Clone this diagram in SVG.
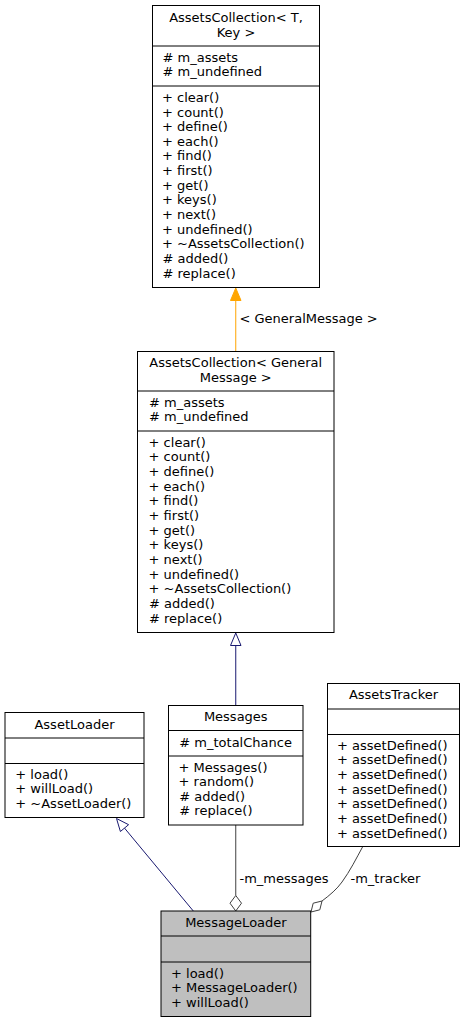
<svg xmlns="http://www.w3.org/2000/svg" width="465" height="1023" viewBox="0 0 465 1023">
<style>
text{font-family:"DejaVu Sans","Liberation Sans",sans-serif;font-size:13px;fill:#000}
.c{text-anchor:middle}
.box{fill:#fff;stroke:#000;stroke-width:1}
.sel{fill:#bfbfbf;stroke:#000;stroke-width:1}
.sep{stroke:#000;stroke-width:1}
.inh{stroke:#191970;fill:none;stroke-width:1}
.inhh{stroke:#191970;fill:#fff;stroke-width:1}
.tpl{stroke:#ffa500;fill:none;stroke-width:1}
.tplh{stroke:#ffa500;fill:#ffa500;stroke-width:1}
.agg{stroke:#404040;fill:none;stroke-width:1}
.aggh{stroke:#404040;fill:#fff;stroke-width:1}
</style>
<rect width="465" height="1023" fill="#fff"/>
<g id="connectors">
<line class="tpl" x1="235.75" y1="300.5" x2="235.75" y2="351.5"/>
<polygon class="tplh" points="235.75,288 241,300.5 230.5,300.5"/>
<text x="239.5" y="323">&lt; GeneralMessage &gt;</text>
<line class="inh" x1="235.75" y1="645.5" x2="235.75" y2="705.5"/>
<polygon class="inhh" points="235.75,633 241,645.5 230.5,645.5"/>
<line class="inh" x1="124.5" y1="828.1" x2="193.3" y2="911"/>
<polygon class="inhh" points="116.5,818.5 128.6,824.7 120.4,831.5"/>
<line class="agg" x1="235.75" y1="825" x2="235.75" y2="895.5"/>
<polygon class="aggh" points="235.75,895.5 241.5,903.2 235.75,911 230,903.2"/>
<text x="239.5" y="883">-m_messages</text>
<path class="agg" d="M362.7,846.7 C356,859 350,871 342,882 C337,889 330,895 322,901"/>
<polygon class="aggh" points="322,901 319.8,909.8 311,912 313.2,903.2"/>
<text x="350.5" y="883">-m_tracker</text>
</g>
<g id="node_AssetsCollection_T_Key">
<rect class="box" x="152.5" y="5.5" width="167" height="282"/>
<text class="c" x="236" y="21.5">AssetsCollection&lt; T,</text>
<text class="c" x="236" y="36.5">Key &gt;</text>
<line class="sep" x1="152.5" y1="46" x2="319.5" y2="46"/>
<text x="162.5" y="61.9"># m_assets</text>
<text x="162.5" y="75.9"># m_undefined</text>
<line class="sep" x1="152.5" y1="86" x2="319.5" y2="86"/>
<text x="162" y="101.9">+ clear()</text>
<text x="162" y="116.5">+ count()</text>
<text x="162" y="131.2">+ define()</text>
<text x="162" y="145.8">+ each()</text>
<text x="162" y="160.4">+ find()</text>
<text x="162" y="175.1">+ first()</text>
<text x="162" y="189.7">+ get()</text>
<text x="162" y="204.3">+ keys()</text>
<text x="162" y="218.9">+ next()</text>
<text x="162" y="233.6">+ undefined()</text>
<text x="162" y="248.2">+ ~AssetsCollection()</text>
<text x="162.5" y="262.8"># added()</text>
<text x="162.5" y="277.5"># replace()</text>
</g>
<g id="node_AssetsCollection_GeneralMessage">
<rect class="box" x="137.5" y="351.5" width="196.5" height="281"/>
<text class="c" x="235.75" y="366.9">AssetsCollection&lt; General</text>
<text class="c" x="235.75" y="381.5">Message &gt;</text>
<line class="sep" x1="137.5" y1="391" x2="334" y2="391"/>
<text x="149" y="406.5"># m_assets</text>
<text x="149" y="421.2"># m_undefined</text>
<line class="sep" x1="137.5" y1="431" x2="334" y2="431"/>
<text x="148.6" y="446.5">+ clear()</text>
<text x="148.6" y="461.2">+ count()</text>
<text x="148.6" y="475.8">+ define()</text>
<text x="148.6" y="490.5">+ each()</text>
<text x="148.6" y="505.2">+ find()</text>
<text x="148.6" y="519.8">+ first()</text>
<text x="148.6" y="534.5">+ get()</text>
<text x="148.6" y="549.2">+ keys()</text>
<text x="148.6" y="563.8">+ next()</text>
<text x="148.6" y="578.5">+ undefined()</text>
<text x="148.6" y="593.2">+ ~AssetsCollection()</text>
<text x="149" y="607.8"># added()</text>
<text x="149" y="622.5"># replace()</text>
</g>
<g id="node_AssetLoader">
<rect class="box" x="5" y="712.5" width="139" height="105"/>
<text class="c" x="74.5" y="728.5">AssetLoader</text>
<line class="sep" x1="5" y1="738" x2="144" y2="738"/>
<line class="sep" x1="5" y1="763.5" x2="144" y2="763.5"/>
<text x="15.3" y="778.5">+ load()</text>
<text x="15.3" y="793.2">+ willLoad()</text>
<text x="15.3" y="808">+ ~AssetLoader()</text>
</g>
<g id="node_Messages">
<rect class="box" x="168.5" y="705.5" width="134.5" height="119.5"/>
<text class="c" x="235.75" y="720.9">Messages</text>
<line class="sep" x1="168.5" y1="730.5" x2="303" y2="730.5"/>
<text x="179.3" y="746.5"># m_totalChance</text>
<line class="sep" x1="168.5" y1="756" x2="303" y2="756"/>
<text x="178.6" y="771.5">+ Messages()</text>
<text x="178.6" y="786.1">+ random()</text>
<text x="179.3" y="800.7"># added()</text>
<text x="179.3" y="815.3"># replace()</text>
</g>
<g id="node_AssetsTracker">
<rect class="box" x="327.5" y="683.5" width="132" height="163"/>
<text class="c" x="393.5" y="698.5">AssetsTracker</text>
<line class="sep" x1="327.5" y1="709" x2="459.5" y2="709"/>
<line class="sep" x1="327.5" y1="734.5" x2="459.5" y2="734.5"/>
<text x="337" y="749.5">+ assetDefined()</text>
<text x="337" y="764.2">+ assetDefined()</text>
<text x="337" y="778.8">+ assetDefined()</text>
<text x="337" y="793.5">+ assetDefined()</text>
<text x="337" y="808.2">+ assetDefined()</text>
<text x="337" y="822.8">+ assetDefined()</text>
<text x="337" y="837.5">+ assetDefined()</text>
</g>
<g id="node_MessageLoader">
<rect class="sel" x="161" y="911" width="149.7" height="105.5"/>
<text class="c" x="235.9" y="926.5">MessageLoader</text>
<line class="sep" x1="161" y1="936" x2="310.7" y2="936"/>
<line class="sep" x1="161" y1="962" x2="310.7" y2="962"/>
<text x="171" y="977.5">+ load()</text>
<text x="171" y="992.1">+ MessageLoader()</text>
<text x="171" y="1006.7">+ willLoad()</text>
</g>
</svg>
